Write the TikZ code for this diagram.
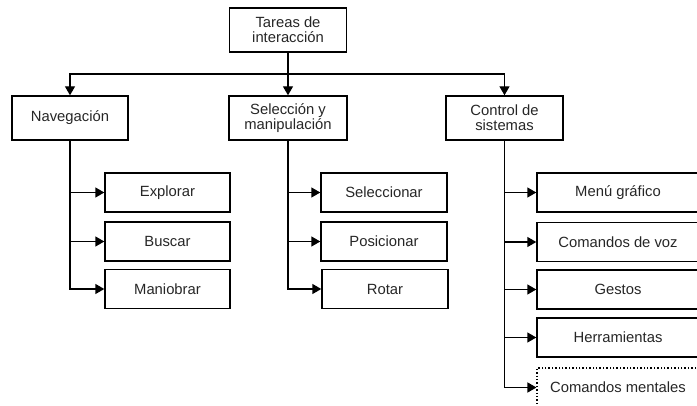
\documentclass[tikz,border=0pt]{standalone}
\usepackage{fontspec}
\setmainfont{Liberation Sans}
\usetikzlibrary{arrows.meta}
\begin{document}
\begin{tikzpicture}[x=1pt,y=-1pt,
  box/.style={draw, line width=1.4pt, rectangle, align=center, inner sep=0pt,
    font=\fontsize{14.8}{15}\selectfont, text=black!85},
  big/.style={box, minimum height=44pt},
  leaf/.style={box, minimum height=39pt},
  conn/.style={line width=1.4pt, -{Triangle[length=9pt,width=10pt]}}]
\useasboundingbox (0,0) rectangle (697,406);
\clip (0,0) rectangle (697,406);
% level 0
\node[big, minimum width=117pt] (top) at (288,30) {Tareas de\\interacción};
% level 1
\node[big, minimum width=116pt] (nav) at (70,118) {Navegación};
\node[big, minimum width=118pt] (sel) at (288,118) {Selección y\\manipulación};
\node[big, minimum width=117pt] (ctrl) at (504.5,118) {Control de\\sistemas};
% navigation leaves
\node[leaf, minimum width=125pt] (exp) at (167.5,192.5) {Explorar};
\node[leaf, minimum width=125pt] (bus) at (167.5,241.5) {Buscar};
\node[leaf, minimum width=125pt] (man) at (167.5,289) {Maniobrar};
% selection leaves
\node[leaf, minimum width=126pt] (sele) at (384,192.5) {Seleccionar};
\node[leaf, minimum width=126pt] (pos) at (384,241.5) {Posicionar};
\node[leaf, minimum width=126pt] (rot) at (385,289) {Rotar};
% control leaves
\node[leaf, minimum width=162pt] (menu) at (618,192.5) {Menú gráfico};
\node[leaf, minimum width=162pt] (voz) at (618,242) {Comandos de voz};
\node[leaf, minimum width=162pt] (ges) at (618,289.5) {Gestos};
\node[leaf, minimum width=162pt] (her) at (618,337.5) {Herramientas};
\node[box, dotted, line width=1.1pt, minimum width=162pt, minimum height=39pt] (ment) at (618,387.5) {Comandos mentales};
% top connectors
\coordinate (j) at (288,74);
\draw[conn] (top) -- (sel);
\draw[conn] (j) -| (nav.north);
\draw[conn] (j) -| (ctrl.north);
% children
\draw[conn] (nav.south) |- (exp.west);
\draw[conn] (nav.south) |- (bus.west);
\draw[conn] (nav.south) |- (man.west);
\draw[conn] (sel.south) |- (sele.west);
\draw[conn] (sel.south) |- (pos.west);
\draw[conn] (sel.south) |- (rot.west);
\draw[conn] (ctrl.south) |- (menu.west);
\draw[conn] (ctrl.south) |- (voz.west);
\draw[conn] (ctrl.south) |- (ges.west);
\draw[conn] (ctrl.south) |- (her.west);
\draw[conn] (ctrl.south) |- (ment.west);
\end{tikzpicture}
\end{document}
